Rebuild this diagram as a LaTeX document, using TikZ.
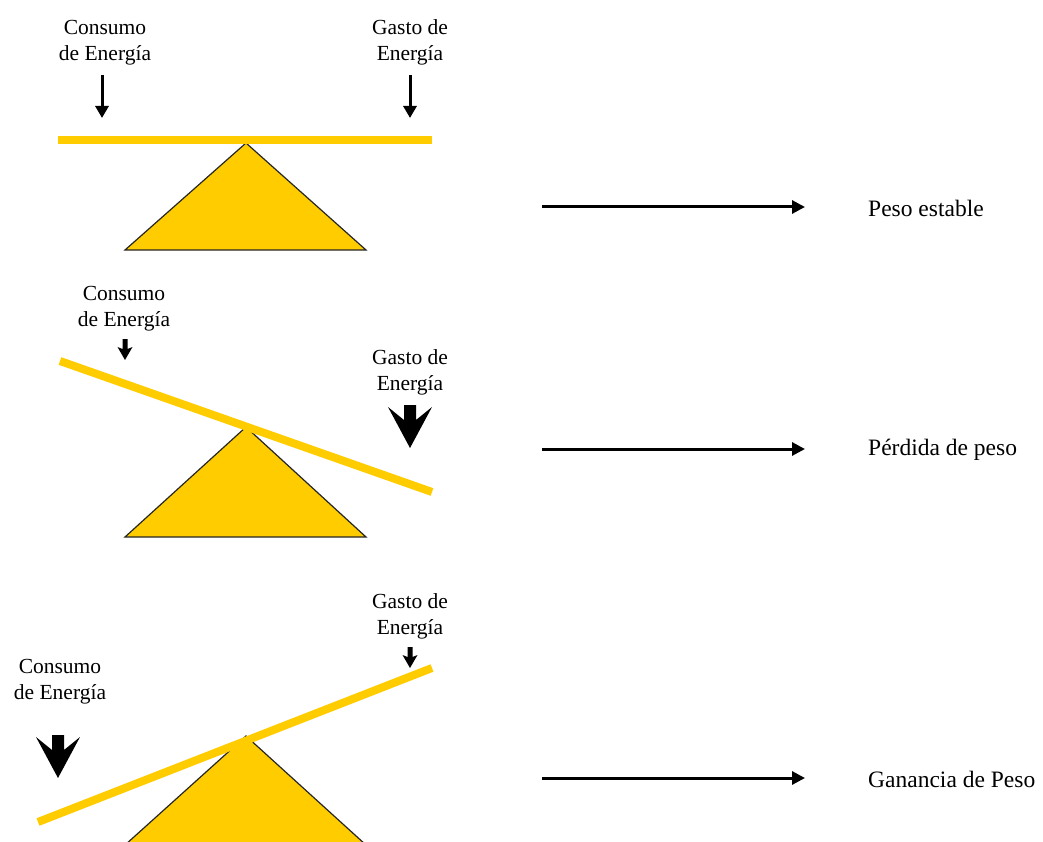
\documentclass[tikz,border=0pt]{standalone}
\usepackage{fontspec}
\setmainfont{Liberation Serif}
\usetikzlibrary{arrows.meta}
\definecolor{gold}{RGB}{255,204,0}
\begin{document}
\begin{tikzpicture}[x=1pt,y=-1pt,
  lbl/.style={align=center,font=\fontsize{21.5}{26}\selectfont,inner sep=0pt},
  res/.style={anchor=west,font=\fontsize{23.5}{28}\selectfont,inner sep=0pt},
  bar/.style={draw=gold,line width=8pt},
  fulcrum/.style={fill=gold,draw=black!85,line width=1.2pt,line join=miter},
  conn/.style={line width=3pt,-{Triangle[length=13pt,width=13pt]}},
  slimarrow/.style={line width=3pt,-{Triangle[length=12pt,width=13pt]}},
  fat/.pic={\fill[black] (-6,0) -- (6,0) -- (6,15) -- (22,2) -- (0,43) -- (-22,2) -- (-6,15) -- cycle;},
  small/.pic={\fill[black] (-2.5,0) -- (2.5,0) -- (2.5,10) -- (7.5,8) -- (0,21) -- (-7.5,8) -- (-2.5,10) -- cycle;}
]
\useasboundingbox (0,0) rectangle (1043,842);
\fill[white] (0,0) rectangle (1043,842);
\clip (0,0) rectangle (1043,842);

% ---------- Panel 1: stable ----------
\node[lbl] (c1) at (105,43) {Consumo\\de Energía};
\node[lbl] (g1) at (410,42) {Gasto de\\Energía};
\coordinate (c1a) at (102,75); \coordinate (c1b) at (102,118);
\coordinate (g1a) at (410,75); \coordinate (g1b) at (410,118);
\draw[slimarrow] (c1a) -- (c1b);
\draw[slimarrow] (g1a) -- (g1b);
\draw[fulcrum] (246,143) -- (366,250) -- (125,250) -- cycle;
\coordinate (b1l) at (58,140); \coordinate (b1r) at (432,140);
\draw[bar] (b1l) -- (b1r);
\coordinate (s1) at (542,207); \coordinate (e1) at (805,207);
\draw[conn] (s1) -- (e1);
\node[res] (r1) at (868,208) {Peso estable};

% ---------- Panel 2: weight loss ----------
\node[lbl] (c2) at (124,309) {Consumo\\de Energía};
\node[lbl] (g2) at (410,372) {Gasto de\\Energía};
\pic at (125,339) {small};
\pic at (410,405) {fat};
\draw[fulcrum] (246,427) -- (366,537) -- (125,537) -- cycle;
\coordinate (b2l) at (60,361); \coordinate (b2r) at (432,492);
\draw[bar] (b2l) -- (b2r);
\coordinate (s2) at (542,449); \coordinate (e2) at (805,449);
\draw[conn] (s2) -- (e2);
\node[res] (r2) at (868,450) {Pérdida de peso};

% ---------- Panel 3: weight gain ----------
\node[lbl] (g3) at (410,616) {Gasto de\\Energía};
\node[lbl] (c3) at (60,682) {Consumo\\de Energía};
\pic at (410,647) {small};
\pic at (58,735) {fat};
\draw[fulcrum] (246,736) -- (366,845) -- (125,845) -- cycle;
\coordinate (b3l) at (38,822); \coordinate (b3r) at (432,668);
\draw[bar] (b3l) -- (b3r);
\coordinate (s3) at (542,778); \coordinate (e3) at (805,778);
\draw[conn] (s3) -- (e3);
\node[res] (r3) at (868,779) {Ganancia de Peso};
\end{tikzpicture}
\end{document}
